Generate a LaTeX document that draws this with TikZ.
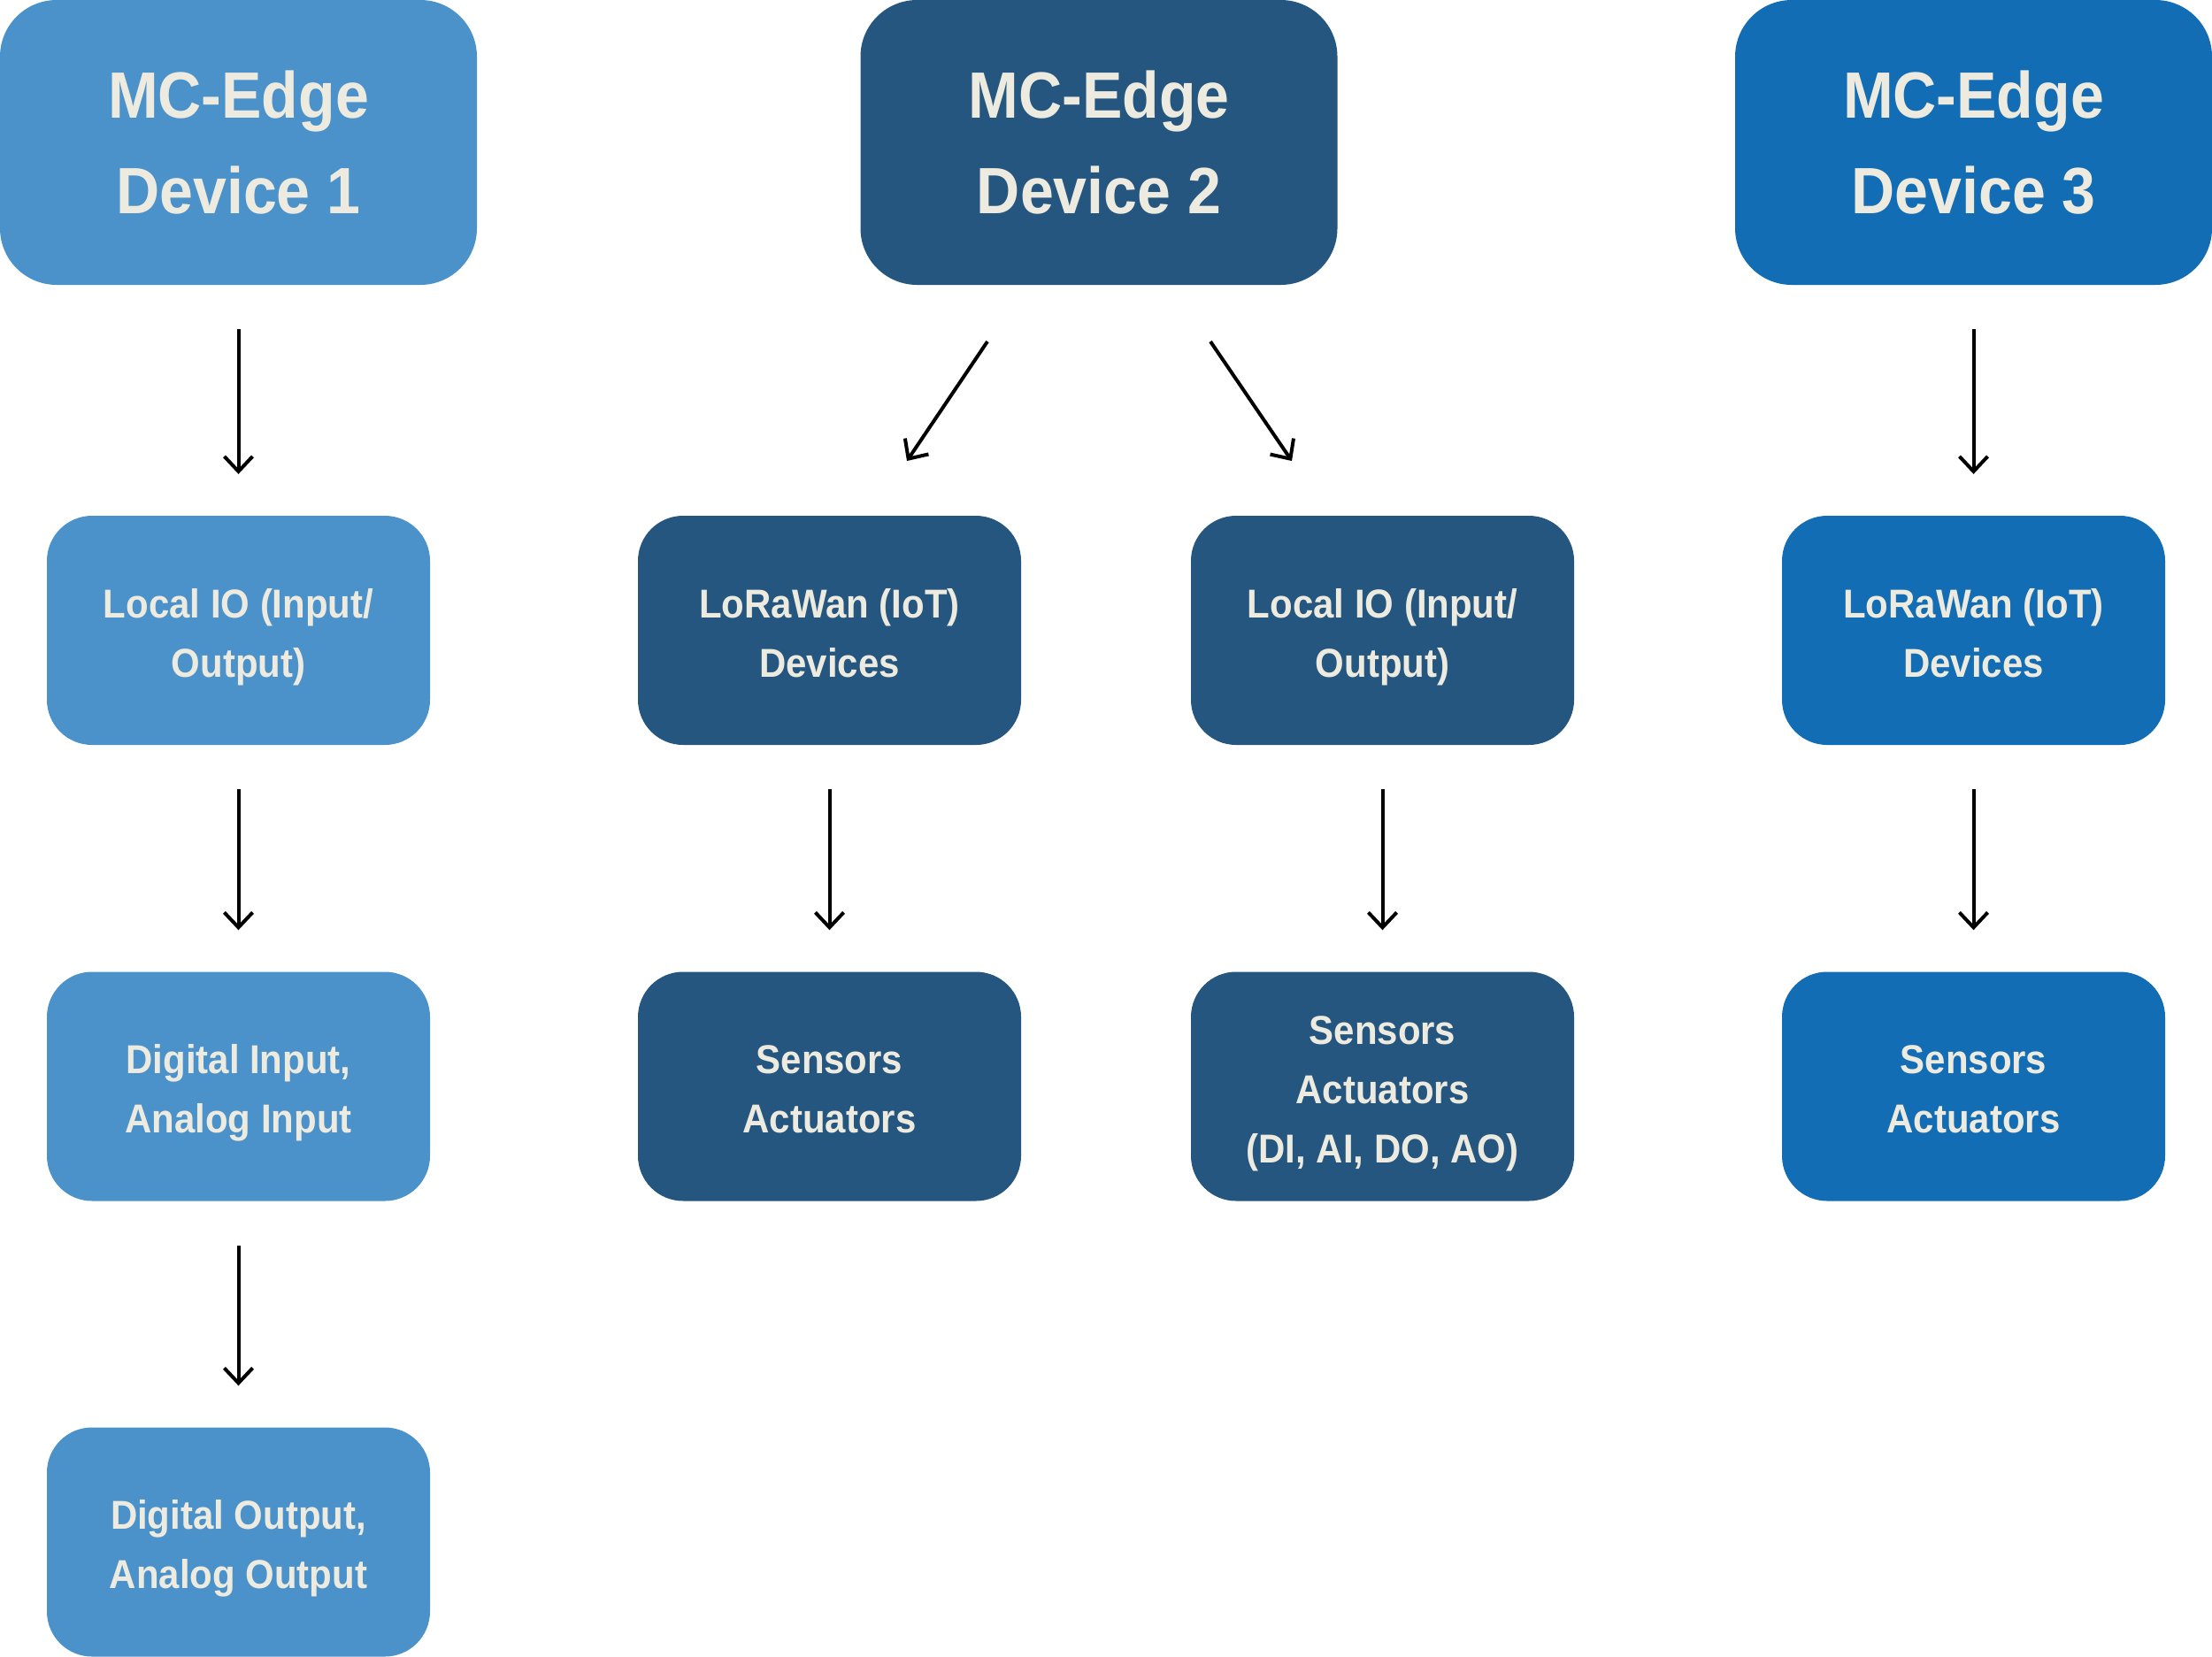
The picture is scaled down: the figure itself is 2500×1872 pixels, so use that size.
\documentclass[tikz,border=0pt]{standalone}
\usepackage{fontspec}
\setmainfont{Liberation Sans}[FakeStretch=0.92]
\usetikzlibrary{arrows.meta}
\definecolor{cA}{HTML}{4B92CB}
\definecolor{cB}{HTML}{25567F}
\definecolor{cC}{HTML}{136DB4}
\definecolor{txt}{HTML}{EDEBE0}
\newcommand{\sm}[1]{\smash{#1}}
\newcommand{\fl}[1]{\rule{0pt}{38pt}\smash{#1}}
\begin{document}
\begin{tikzpicture}[x=1pt,y=-1pt,
  big/.style={rounded corners=64pt, minimum width=539pt, minimum height=322pt, inner sep=0pt, align=center, text=txt, font=\fontsize{74}{108}\selectfont\bfseries},
  small/.style={rounded corners=51pt, minimum width=433pt, minimum height=259pt, inner sep=0pt, align=center, text=txt, font=\fontsize{45.6}{67}\selectfont\bfseries},
  arr/.style={line width=4pt, -{Straight Barb[length=17pt,width=32pt]}, shorten <=50pt, shorten >=47pt}]
\useasboundingbox (0,0) rectangle (2500,1872);
% top devices
\node[big, fill=cA] (d1) at (269.5,161) {MC-Edge\\Device 1};
\node[big, fill=cB] (d2) at (1242,161) {MC-Edge\\Device 2};
\node[big, fill=cC] (d3) at (2230.5,161) {MC-Edge\\Device 3};
% column 1
\node[small, fill=cA] (a1) at (269.5,712.5) {\fl{Local IO (Input/}\\\sm{Output)}};
\node[small, fill=cA] (a2) at (269.5,1228) {\fl{Digital Input,}\\\sm{Analog Input}};
\node[small, fill=cA] (a3) at (269.5,1743) {\fl{Digital Output,}\\\sm{Analog Output}};
% column 2
\node[small, fill=cB] (b1) at (937.5,712.5) {\fl{LoRaWan (IoT)}\\\sm{Devices}};
\node[small, fill=cB] (b2) at (937.5,1228) {\fl{Sensors}\\\sm{Actuators}};
% column 3
\node[small, fill=cB] (c1) at (1562.5,712.5) {\fl{Local IO (Input/}\\\sm{Output)}};
\node[small, fill=cB] (c2) at (1562.5,1228) {\fl{Sensors}\\\sm{Actuators}\\\sm{(DI, AI, DO, AO)}};
% column 4
\node[small, fill=cC] (e1) at (2230.5,712.5) {\fl{LoRaWan (IoT)}\\\sm{Devices}};
\node[small, fill=cC] (e2) at (2230.5,1228) {\fl{Sensors}\\\sm{Actuators}};
% arrows
\draw[arr] (d1) -- (a1);
\draw[arr] (a1) -- (a2);
\draw[arr] (a2) -- (a3);
\draw[arr] (b1) -- (b2);
\draw[arr] (c1) -- (c2);
\draw[arr] (d3) -- (e1);
\draw[arr] (e1) -- (e2);
\coordinate (l0) at (1116,386);
\coordinate (l1) at (1025,521);
\coordinate (r0) at (1368,386);
\coordinate (r1) at (1460,521);
\draw[line width=4pt, -{Straight Barb[length=17pt,width=32pt]}] (l0) -- (l1);
\draw[line width=4pt, -{Straight Barb[length=17pt,width=32pt]}] (r0) -- (r1);
\end{tikzpicture}
\end{document}
